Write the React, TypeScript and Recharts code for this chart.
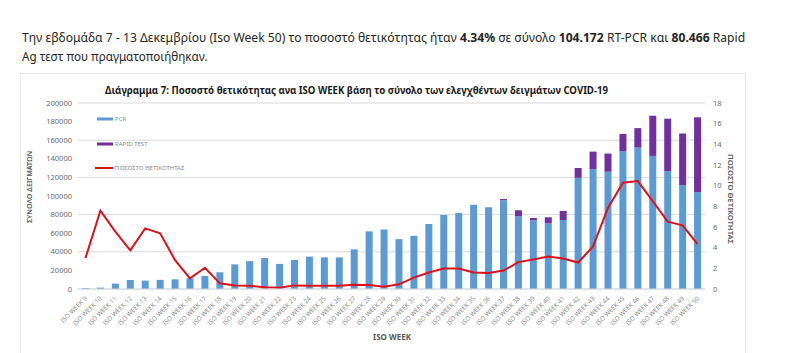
import React, { useLayoutEffect, useRef, useState } from 'react';
import { ComposedChart, Bar, Line, XAxis, YAxis, CartesianGrid, Legend } from 'recharts';

const categories = [
  'ISO WEEK 9', 'ISO WEEK 10', 'ISO WEEK 11', 'ISO WEEK 12', 'ISO WEEK 13', 'ISO WEEK 14',
  'ISO WEEK 15', 'ISO WEEK 16', 'ISO WEEK 17', 'ISO WEEK 18', 'ISO WEEK 19', 'ISO WEEK 20',
  'ISO WEEK 21', 'ISO WEEK 22', 'ISO WEEK 23', 'ISO WEEK 24', 'ISO WEEK 25', 'ISO WEEK 26',
  'ISO WEEK 27', 'ISO WEEK 28', 'ISO WEEK 29', 'ISO WEEK 30', 'ISO WEEK 31', 'ISO WEEK 32',
  'ISO WEEK 33', 'ISO WEEK 34', 'ISO WEEK 35', 'ISO WEEK 36', 'ISO WEEK 37', 'ISO WEEK 38',
  'ISO WEEK 39', 'ISO WEEK 40', 'ISO WEEK 41', 'ISO WEEK 42', 'ISO WEEK 43', 'ISO WEEK 44',
  'ISO WEEK 45', 'ISO WEEK 46', 'ISO WEEK 47', 'ISO WEEK 48', 'ISO WEEK 49', 'ISO WEEK 50',
];

const pcr = [
  1000, 1500, 5800, 9800, 9000, 9800, 10400, 11500, 14000, 18000,
  26500, 30000, 33300, 27000, 31200, 34800, 34000, 34000, 42600, 62000,
  64000, 53600, 57200, 69900, 79600, 81800, 90500, 87900, 95500, 78200,
  73900, 70600, 74200, 119600, 129000, 126100, 148100, 152100, 143100, 126800,
  111700, 104172,
];

const rapid = [
  0, 0, 0, 0, 0, 0, 0, 0, 0, 0,
  0, 0, 0, 0, 0, 0, 0, 0, 0, 0,
  0, 0, 0, 0, 0, 0, 0, 0, 1200, 6500,
  2500, 6500, 9800, 10500, 18700, 19500, 18700, 20900, 43200, 56300,
  55500, 80466,
];

const positivity = [
  3.0, 7.58, 5.55, 3.74, 5.87, 5.39, 2.8, 1.03, 2.06, 0.55,
  0.35, 0.32, 0.16, 0.13, 0.35, 0.32, 0.32, 0.32, 0.42, 0.39,
  0.23, 0.45, 1.1, 1.59, 1.98, 1.98, 1.59, 1.56, 1.78, 2.6,
  2.85, 3.15, 2.95, 2.56, 4.12, 7.85, 10.28, 10.44, 8.5, 6.52,
  6.16, 4.34,
];

const leftTicks = [0, 20000, 40000, 60000, 80000, 100000, 120000, 140000, 160000, 180000, 200000];
const rightTicks = [0, 2, 4, 6, 8, 10, 12, 14, 16, 18];

const data = categories.map((week, i) => ({
  week,
  pcr: pcr[i],
  rapid: rapid[i],
  pos: positivity[i],
}));

const FONT = '"Noto Sans", "DejaVu Sans", sans-serif';
const TICK_COLOR = '#6b6b6b';

const FitLine = ({ width, top, children }: { width: number; top: number; children: React.ReactNode }) => {
  const ref = useRef<HTMLDivElement>(null);
  const [scale, setScale] = useState(1);
  useLayoutEffect(() => {
    const el = ref.current;
    if (el) {
      const w = el.offsetWidth;
      if (w > 0) setScale(width / w);
    }
  }, [width]);
  return (
    <div
      ref={ref}
      style={{
        position: 'absolute',
        left: 22,
        top,
        display: 'inline-block',
        whiteSpace: 'nowrap',
        fontSize: 13,
        lineHeight: '16px',
        fontFamily: FONT,
        color: '#262626',
        transform: `scaleX(${scale})`,
        transformOrigin: 'left top',
      }}
    >
      {children}
    </div>
  );
};

const XTick = (props: any) => {
  const { x, y, payload } = props;
  const tx = x + 2;
  const ty = y + 2;
  return (
    <text
      x={tx}
      y={ty}
      transform={`rotate(-45 ${tx} ${ty})`}
      textAnchor="end"
      fontSize={6.3}
      fontFamily={FONT}
      fill="#8a8a8a"
    >
      {payload.value}
    </text>
  );
};

const LegendContent = (props: any) => {
  const { payload } = props;
  return (
    <div style={{ fontFamily: FONT }}>
      {(payload || []).map((entry: any, i: number) => (
        <div key={i} style={{ height: 24.5, display: 'flex', alignItems: 'center' }}>
          <svg width={22} height={8} style={{ display: 'block' }}>
            {entry.type === 'line' ? (
              <line x1={3} y1={4} x2={21} y2={4} stroke={entry.color} strokeWidth={2} />
            ) : (
              <rect x={5} y={2.5} width={16} height={3} fill={entry.color} />
            )}
          </svg>
          <span style={{ fontSize: 6, color: '#8a8a8a', marginLeft: 1, whiteSpace: 'nowrap', lineHeight: '8px' }}>
            {entry.value}
          </span>
        </div>
      ))}
    </div>
  );
};

export default function App() {
  return (
    <div style={{ position: 'absolute', left: 0, top: 0, width: 800, height: 353, background: '#fff', overflow: 'hidden' }}>
      <FitLine width={723} top={29}>
        Την εβδομάδα 7 - 13 Δεκεμβρίου (Iso Week 50) το ποσοστό θετικότητας ήταν <b>4.34%</b> σε σύνολο{' '}
        <b>104.172</b> RT-PCR και <b>80.466</b> Rapid
      </FitLine>
      <FitLine width={185} top={48}>
        Ag τεστ που πραγματοποιήθηκαν.
      </FitLine>
      <div style={{ position: 'absolute', left: 20, top: 73, width: 724, height: 300, border: '1px solid #e6e6e6', background: '#fff' }} />
      <div style={{ position: 'absolute', left: 0, top: 0 }}>
        <ComposedChart
          width={800}
          height={353}
          data={data}
          margin={{ top: 103, right: 0, bottom: 0, left: 0 }}
          barSize={7}
        >
          <CartesianGrid yAxisId="left" vertical={false} stroke="#d9d9d9" strokeWidth={1} />
          <XAxis
            dataKey="week"
            interval={0}
            height={64}
            tick={<XTick />}
            tickLine={false}
            axisLine={{ stroke: '#d9d9d9' }}
          />
          <YAxis
            yAxisId="left"
            orientation="left"
            width={78}
            domain={[0, 200000]}
            ticks={leftTicks}
            tickLine={false}
            axisLine={false}
            tickSize={4}
            tickMargin={2}
            tick={{ fontSize: 7.5, fill: TICK_COLOR, fontFamily: FONT }}
          />
          <YAxis
            yAxisId="right"
            orientation="right"
            width={95}
            domain={[0, 18]}
            ticks={rightTicks}
            tickLine={false}
            axisLine={false}
            tickSize={6}
            tickMargin={2}
            tick={{ fontSize: 7.5, fill: TICK_COLOR, fontFamily: FONT }}
          />
          <Legend
            layout="vertical"
            align="center"
            verticalAlign="middle"
            content={<LegendContent />}
            wrapperStyle={{ left: 92, top: 107, width: 160, height: 75 }}
          />
          <Bar yAxisId="left" dataKey="pcr" name="PCR" stackId="a" fill="#5B9BD5" isAnimationActive={false} />
          <Bar yAxisId="left" dataKey="rapid" name="RAPID TEST" stackId="a" fill="#7030A0" isAnimationActive={false} />
          <Line
            yAxisId="right"
            type="linear"
            dataKey="pos"
            name="ΠΟΣΟΣΤΟ ΘΕΤΙΚΟΤΗΤΑΣ"
            stroke="#E0101B"
            strokeWidth={2}
            dot={false}
            activeDot={false}
            isAnimationActive={false}
          />
        </ComposedChart>
      </div>
      <svg width={800} height={353} style={{ position: 'absolute', left: 0, top: 0, pointerEvents: 'none' }}>
        <text x={105} y={93.5} fontSize={10.5} fontWeight="bold" fontFamily={FONT} fill="#1a1a1a" textLength={503} lengthAdjust="spacingAndGlyphs">
          Διάγραμμα 7: Ποσοστό θετικότητας ανα ISO WEEK  βάση το σύνολο των ελεγχθέντων δειγμάτων COVID-19
        </text>
        <text
          x={29}
          y={187}
          transform="rotate(-90 29 187)"
          textAnchor="middle"
          dominantBaseline="central"
          fontSize={7.5}
          fontWeight={600}
          fontFamily={FONT}
          fill="#595959"
          textLength={72}
          lengthAdjust="spacingAndGlyphs"
        >
          ΣΥΝΟΛΟ ΔΕΙΓΜΑΤΩΝ
        </text>
        <text
          x={731}
          y={199}
          transform="rotate(90 731 199)"
          textAnchor="middle"
          dominantBaseline="central"
          fontSize={7.5}
          fontWeight={600}
          fontFamily={FONT}
          fill="#595959"
          textLength={90}
          lengthAdjust="spacingAndGlyphs"
        >
          ΠΟΣΟΣΤΟ ΘΕΤΙΚΟΤΗΤΑΣ
        </text>
        <text
          x={392}
          y={336}
          textAnchor="middle"
          dominantBaseline="central"
          fontSize={8}
          fontWeight="bold"
          fontFamily={FONT}
          fill="#595959"
        >
          ISO WEEK
        </text>
      </svg>
    </div>
  );
}
